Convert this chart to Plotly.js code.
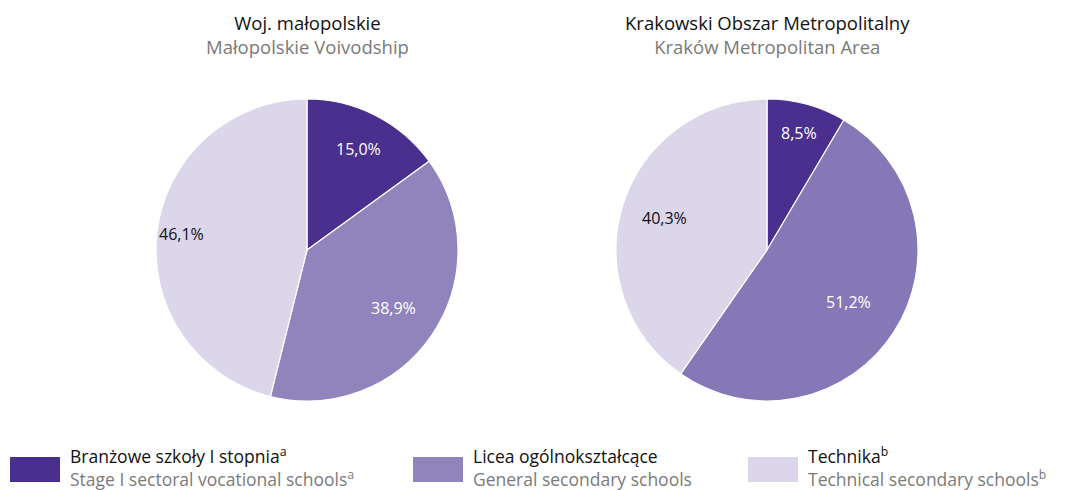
<!DOCTYPE html>
<html>
<head>
<meta charset="utf-8">
<script src="https://cdn.plot.ly/plotly-3.0.1.min.js"></script>
<style>html,body{margin:0;padding:0;background:#fff;}#chart{width:1066px;height:490px;}</style>
</head>
<body>
<div id="chart"></div>
<script>
const categoriesPl = ["Branżowe szkoły I stopnia<sup>a</sup>", "Licea ogólnokształcące", "Technika<sup>b</sup>"];
const categoriesEn = ["Stage I sectoral vocational schools<sup>a</sup>", "General secondary schools", "Technical secondary schools<sup>b</sup>"];
const regionTitlesPl = ["Woj. małopolskie", "Krakowski Obszar Metropolitalny"];
const regionTitlesEn = ["Małopolskie Voivodship", "Kraków Metropolitan Area"];
const valuesMalopolskie = [15.0, 38.9, 46.1];
const valuesKrakow = [8.5, 51.2, 40.3];

// style settings
const colorsLeft = ["#4a2f8f", "#9184bd", "#dbd6ea"];
const colorsRight = ["#4a2f8f", "#8677b6", "#dbd6ea"];
const labelColors = ["#ffffff", "#ffffff", "#111111"];
const labelRadiusLeft = [0.75, 0.69, 0.84];
const labelRadiusRight = [0.80, 0.64, 0.71];
const FONT = "Open Sans, Noto Sans, sans-serif";
const W = 1066, H = 490;
const pieCentersX = [307, 767], pieCenterY = 250, pieR = 151;

function fmt(v){ return v.toFixed(1).replace(".", ",") + "%"; }

function pieTrace(values, colors, cx){
  return {
    type: "pie",
    values: values,
    labels: categoriesEn,
    textinfo: "none",
    sort: false,
    direction: "clockwise",
    rotation: 0,
    hoverinfo: "none",
    marker: {colors: colors, line: {color: "#ffffff", width: 1.2}},
    domain: {x: [(cx - pieR)/W, (cx + pieR)/W], y: [1 - (pieCenterY + pieR)/H, 1 - (pieCenterY - pieR)/H]},
    showlegend: false
  };
}

const data = [
  pieTrace(valuesMalopolskie, colorsLeft, pieCentersX[0]),
  pieTrace(valuesKrakow, colorsRight, pieCentersX[1])
];

const annotations = [];

// slice labels placed at slice mid-angles
function addSliceLabels(values, cx, radii){
  const total = values.reduce((a, b) => a + b, 0);
  let cum = 0;
  values.forEach((v, i) => {
    const mid = (cum + v / 2) / total * 2 * Math.PI;
    cum += v;
    const r = pieR * radii[i];
    const px = cx + r * Math.sin(mid);
    const py = pieCenterY - r * Math.cos(mid);
    annotations.push({xref:"paper", yref:"paper", x: px / W, y: 1 - py / H, xanchor:"center", yanchor:"middle",
      text: fmt(v), showarrow:false, font:{family:FONT, size:16, color:labelColors[i]}});
  });
}
addSliceLabels(valuesMalopolskie, pieCentersX[0], labelRadiusLeft);
addSliceLabels(valuesKrakow, pieCentersX[1], labelRadiusRight);

for (let i = 0; i < 2; i++){
  annotations.push({xref:"paper", yref:"paper", x:pieCentersX[i]/W, y:1-34.5/H, xanchor:"center", yanchor:"middle",
    text: regionTitlesPl[i] + "<br><span style='color:#7a7a7a'>" + regionTitlesEn[i] + "</span>",
    showarrow:false, borderpad:0, font:{family:FONT, size:18.5, color:"#111111"}});
}

const legendX = [10, 413, 748];
const shapes = [];
for (let i = 0; i < 3; i++){
  shapes.push({type:"rect", xref:"paper", yref:"paper",
    x0: legendX[i]/W, x1:(legendX[i]+50)/W, y0: 1-482/H, y1: 1-457/H,
    fillcolor: colorsLeft[i], line:{width:0}});
  annotations.push({xref:"paper", yref:"paper", x:(legendX[i]+59)/W, y:1-467/H, xanchor:"left", yanchor:"middle", align:"left",
    text: categoriesPl[i] + "<br><span style='color:#7a7a7a'>" + categoriesEn[i] + "</span>",
    showarrow:false, borderpad:0, font:{family:FONT, size:17.5, color:"#111111"}});
}

const layout = {
  width: W, height: H,
  margin: {l:0, r:0, t:0, b:0},
  paper_bgcolor: "#ffffff",
  font: {family: FONT},
  showlegend: false,
  annotations: annotations,
  shapes: shapes
};

Plotly.newPlot("chart", data, layout, {displayModeBar:false, staticPlot:true});
</script>
</body>
</html>
